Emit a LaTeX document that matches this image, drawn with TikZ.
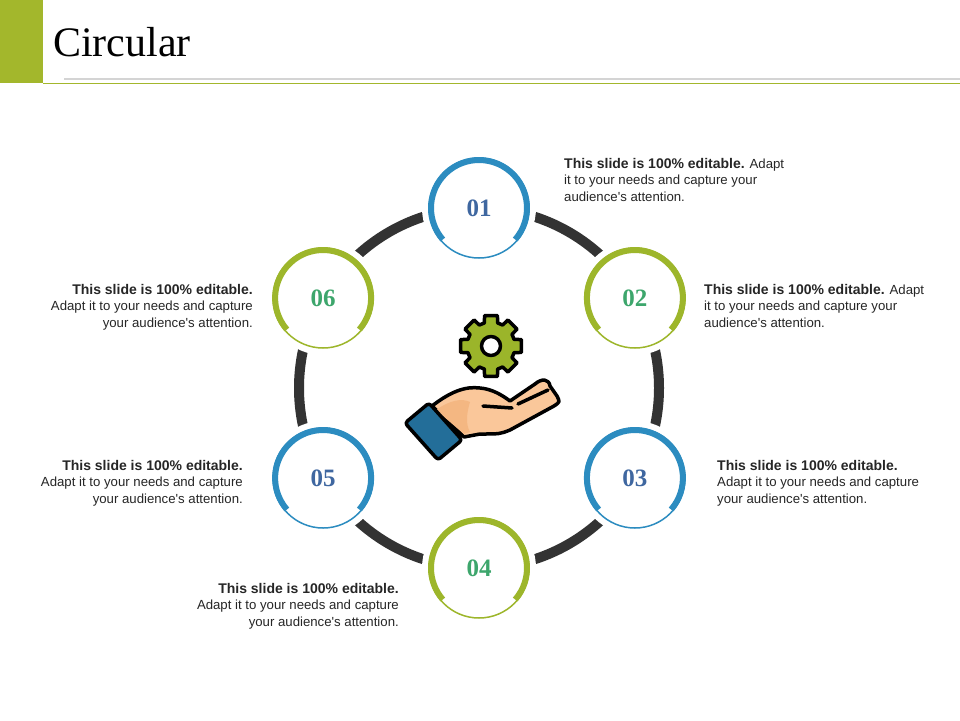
\documentclass[tikz,border=0pt]{standalone}
\usepackage{fontspec}
\setmainfont{Liberation Serif}
\setsansfont{Liberation Sans}
\usetikzlibrary{calc}
\definecolor{hdrgreen}{HTML}{A3B72C}
\definecolor{hdrgray}{HTML}{D4D4D4}
\definecolor{ringblue}{HTML}{2C8CC0}
\definecolor{ringgreen}{HTML}{9DB62B}
\definecolor{numblue}{HTML}{3F67A0}
\definecolor{numgreen}{HTML}{3DA66C}
\definecolor{darkring}{HTML}{333333}
\definecolor{txt}{HTML}{262626}
\definecolor{skin}{HTML}{FAC79A}
\definecolor{skindark}{HTML}{F4B782}
\definecolor{sleevecol}{HTML}{236E99}
\definecolor{gearcol}{HTML}{9BB52A}
\newcommand{\bh}[1]{{\fontsize{14}{16.5}\selectfont\bfseries #1}}
\newcommand{\ap}{\textquotesingle}
\begin{document}
\begin{tikzpicture}[x=1pt,y=-1pt,
  bodytext/.style={font=\sffamily\fontsize{13.2}{16.5}\selectfont, text=txt, inner sep=0pt},
  numnode/.style={circle, fill=white, minimum size=114pt, inner sep=0pt, font=\fontsize{25}{25}\selectfont\bfseries},
  thinarc/.style={line width=1.5pt},
  thickarc/.style={line width=6pt},
  outline/.style={draw=black, line width=3.5pt, line join=round, line cap=round}]
\useasboundingbox (0,0) rectangle (960,720);
\fill[white] (0,0) rectangle (960,720);
% header
\fill[hdrgreen] (0,0) rectangle (43,83);
\draw[hdrgray, line width=2pt] (64,79) -- (960,79);
\draw[hdrgreen, line width=1.2pt] (43,83.4) -- (960,83.4);
\node[anchor=base west, inner sep=0pt, font=\fontsize{42}{42}\selectfont] (title) at (53,56) {Circular};
% ring
\coordinate (O) at (479,388);
\draw[darkring, line width=10pt] (O) circle[radius=180];
% circles
\node[numnode, text=numblue]  (c1) at (479,208) {01};
\node[numnode, text=numgreen] (c2) at (634.9,298) {02};
\node[numnode, text=numblue]  (c3) at (634.9,478) {03};
\node[numnode, text=numgreen] (c4) at (479,568) {04};
\node[numnode, text=numblue]  (c5) at (323.1,478) {05};
\node[numnode, text=numgreen] (c6) at (323.1,298) {06};
\foreach \c/\col in {c1/ringblue,c2/ringgreen,c3/ringblue,c4/ringgreen,c5/ringblue,c6/ringgreen}{
  \draw[\col, thinarc] (\c) circle[radius=50];
  \draw[\col, thickarc] ($(\c)+(41:48)$) arc[start angle=41, end angle=-221, radius=48];
}
% texts
\node[bodytext, anchor=north west, align=left] (t1) at (564,158)
  {\bh{This slide is 100\% editable.} Adapt\\it to your needs and capture your\\audience\ap s attention.};
\node[bodytext, anchor=north west, align=left] (t2) at (704,284)
  {\bh{This slide is 100\% editable.} Adapt\\it to your needs and capture your\\audience\ap s attention.};
\node[bodytext, anchor=north west, align=left] (t3) at (717,460)
  {\bh{This slide is 100\% editable.}\\Adapt it to your needs and capture\\your audience\ap s attention.};
\node[bodytext, anchor=north east, align=right] (t4) at (399,583)
  {\bh{This slide is 100\% editable.}\\Adapt it to your needs and capture\\your audience\ap s attention.};
\node[bodytext, anchor=north east, align=right] (t5) at (243,460)
  {\bh{This slide is 100\% editable.}\\Adapt it to your needs and capture\\your audience\ap s attention.};
\node[bodytext, anchor=north east, align=right] (t6) at (253,284)
  {\bh{This slide is 100\% editable.}\\Adapt it to your needs and capture\\your audience\ap s attention.};
% gear
\begin{scope}[shift={(491,346)}]
  \draw[outline, fill=gearcol] (-29:24)
    \foreach \i in {0,...,7}{
      arc[start angle=\i*45-29, end angle=\i*45-16, radius=24]
      -- (\i*45-12:31) -- (\i*45+12:31) -- (\i*45+16:24)
    } -- cycle;
  \draw[outline, fill=white] (0,0) circle[radius=9.5];
\end{scope}
% hand
\draw[outline, fill=skin]
  (432,406) .. controls (450,392) and (465,386) .. (480,388)
  .. controls (492,389) and (502,395) .. (510,401)
  -- (535,384) .. controls (542,378) and (549,379) .. (550,386)
  -- (557,396) .. controls (560,402) .. (554,406)
  -- (510,430) .. controls (500,434) .. (480,434)
  -- (464,437) -- cycle;
\fill[skindark] (436,410) .. controls (450,400) and (462,398) .. (470,402)
  .. controls (466,415) and (466,425) .. (470,432) -- (464,434) -- cycle;
\draw[outline] (483,406) -- (512,408);
\draw[outline] (518,404) -- (548,390);
\draw[outline, fill=sleevecol, rounded corners=3pt] (405,423) -- (429,403) -- (462,440) -- (438,460) -- cycle;
\end{tikzpicture}
\end{document}
